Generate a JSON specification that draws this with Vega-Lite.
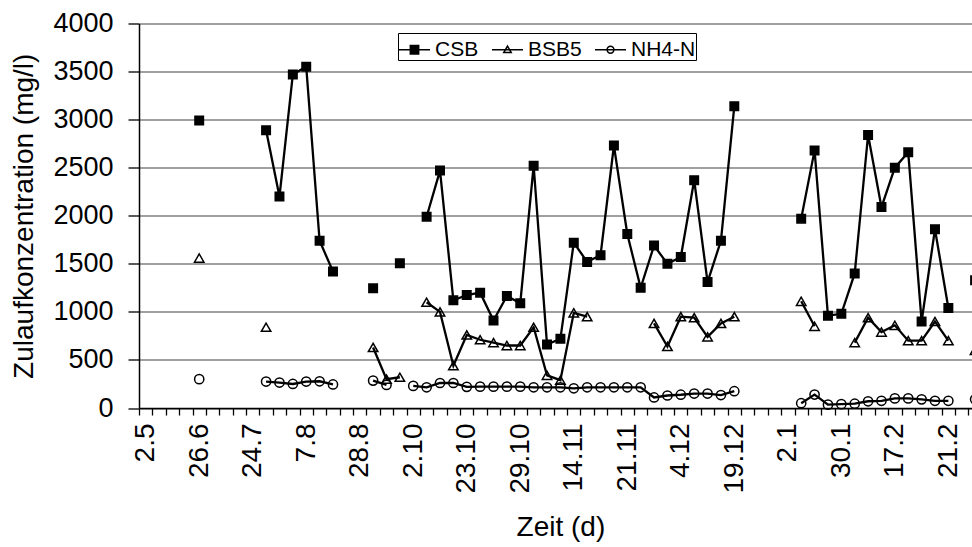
{
  "$schema": "https://vega.github.io/schema/vega-lite/v6.json",
  "width": 833,
  "height": 384.5,
  "autosize": {"type": "none"},
  "padding": {"left": 139, "top": 23.5, "right": 0, "bottom": 139},
  "background": "white",
  "config": {"font": "Liberation Sans", "view": {"stroke": null}},
  "data": {"values": [
    {"k": 4, "s": "CSB", "v": 2990}, {"k": 5, "s": "CSB", "v": null},
    {"k": 9, "s": "CSB", "v": 2890}, {"k": 10, "s": "CSB", "v": 2200}, {"k": 11, "s": "CSB", "v": 3470}, {"k": 12, "s": "CSB", "v": 3550}, {"k": 13, "s": "CSB", "v": 1740}, {"k": 14, "s": "CSB", "v": 1420}, {"k": 15, "s": "CSB", "v": null},
    {"k": 17, "s": "CSB", "v": 1245}, {"k": 18, "s": "CSB", "v": null},
    {"k": 19, "s": "CSB", "v": 1505}, {"k": 20, "s": "CSB", "v": null},
    {"k": 21, "s": "CSB", "v": 1990}, {"k": 22, "s": "CSB", "v": 2470}, {"k": 23, "s": "CSB", "v": 1120}, {"k": 24, "s": "CSB", "v": 1175}, {"k": 25, "s": "CSB", "v": 1200}, {"k": 26, "s": "CSB", "v": 910}, {"k": 27, "s": "CSB", "v": 1165}, {"k": 28, "s": "CSB", "v": 1090}, {"k": 29, "s": "CSB", "v": 2520}, {"k": 30, "s": "CSB", "v": 660}, {"k": 31, "s": "CSB", "v": 720}, {"k": 32, "s": "CSB", "v": 1720}, {"k": 33, "s": "CSB", "v": 1520}, {"k": 34, "s": "CSB", "v": 1590}, {"k": 35, "s": "CSB", "v": 2730}, {"k": 36, "s": "CSB", "v": 1810}, {"k": 37, "s": "CSB", "v": 1250}, {"k": 38, "s": "CSB", "v": 1690}, {"k": 39, "s": "CSB", "v": 1500}, {"k": 40, "s": "CSB", "v": 1570}, {"k": 41, "s": "CSB", "v": 2370}, {"k": 42, "s": "CSB", "v": 1310}, {"k": 43, "s": "CSB", "v": 1740}, {"k": 44, "s": "CSB", "v": 3140}, {"k": 45, "s": "CSB", "v": null},
    {"k": 49, "s": "CSB", "v": 1970}, {"k": 50, "s": "CSB", "v": 2680}, {"k": 51, "s": "CSB", "v": 960}, {"k": 52, "s": "CSB", "v": 980}, {"k": 53, "s": "CSB", "v": 1400}, {"k": 54, "s": "CSB", "v": 2840}, {"k": 55, "s": "CSB", "v": 2090}, {"k": 56, "s": "CSB", "v": 2500}, {"k": 57, "s": "CSB", "v": 2660}, {"k": 58, "s": "CSB", "v": 900}, {"k": 59, "s": "CSB", "v": 1860}, {"k": 60, "s": "CSB", "v": 1040}, {"k": 61, "s": "CSB", "v": null},
    {"k": 62, "s": "CSB", "v": 1330},

    {"k": 4, "s": "BSB5", "v": 1560}, {"k": 5, "s": "BSB5", "v": null},
    {"k": 9, "s": "BSB5", "v": 840}, {"k": 10, "s": "BSB5", "v": null},
    {"k": 17, "s": "BSB5", "v": 630}, {"k": 18, "s": "BSB5", "v": 300}, {"k": 19, "s": "BSB5", "v": 320}, {"k": 20, "s": "BSB5", "v": null},
    {"k": 21, "s": "BSB5", "v": 1100}, {"k": 22, "s": "BSB5", "v": 1000}, {"k": 23, "s": "BSB5", "v": 440}, {"k": 24, "s": "BSB5", "v": 760}, {"k": 25, "s": "BSB5", "v": 710}, {"k": 26, "s": "BSB5", "v": 680}, {"k": 27, "s": "BSB5", "v": 650}, {"k": 28, "s": "BSB5", "v": 650}, {"k": 29, "s": "BSB5", "v": 840}, {"k": 30, "s": "BSB5", "v": 340}, {"k": 31, "s": "BSB5", "v": 290}, {"k": 32, "s": "BSB5", "v": 990}, {"k": 33, "s": "BSB5", "v": 950}, {"k": 34, "s": "BSB5", "v": null},
    {"k": 38, "s": "BSB5", "v": 880}, {"k": 39, "s": "BSB5", "v": 640}, {"k": 40, "s": "BSB5", "v": 950}, {"k": 41, "s": "BSB5", "v": 940}, {"k": 42, "s": "BSB5", "v": 740}, {"k": 43, "s": "BSB5", "v": 880}, {"k": 44, "s": "BSB5", "v": 950}, {"k": 45, "s": "BSB5", "v": null},
    {"k": 49, "s": "BSB5", "v": 1110}, {"k": 50, "s": "BSB5", "v": 850}, {"k": 51, "s": "BSB5", "v": null},
    {"k": 53, "s": "BSB5", "v": 680}, {"k": 54, "s": "BSB5", "v": 940}, {"k": 55, "s": "BSB5", "v": 790}, {"k": 56, "s": "BSB5", "v": 860}, {"k": 57, "s": "BSB5", "v": 700}, {"k": 58, "s": "BSB5", "v": 700}, {"k": 59, "s": "BSB5", "v": 900}, {"k": 60, "s": "BSB5", "v": 700}, {"k": 61, "s": "BSB5", "v": null},
    {"k": 62, "s": "BSB5", "v": 600},

    {"k": 4, "s": "NH4-N", "v": 300}, {"k": 5, "s": "NH4-N", "v": null},
    {"k": 9, "s": "NH4-N", "v": 275}, {"k": 10, "s": "NH4-N", "v": 265}, {"k": 11, "s": "NH4-N", "v": 250}, {"k": 12, "s": "NH4-N", "v": 275}, {"k": 13, "s": "NH4-N", "v": 278}, {"k": 14, "s": "NH4-N", "v": 245}, {"k": 15, "s": "NH4-N", "v": null},
    {"k": 17, "s": "NH4-N", "v": 285}, {"k": 18, "s": "NH4-N", "v": 240}, {"k": 19, "s": "NH4-N", "v": null},
    {"k": 20, "s": "NH4-N", "v": 230}, {"k": 21, "s": "NH4-N", "v": 215}, {"k": 22, "s": "NH4-N", "v": 260}, {"k": 23, "s": "NH4-N", "v": 260}, {"k": 24, "s": "NH4-N", "v": 220}, {"k": 25, "s": "NH4-N", "v": 222}, {"k": 26, "s": "NH4-N", "v": 222}, {"k": 27, "s": "NH4-N", "v": 222}, {"k": 28, "s": "NH4-N", "v": 222}, {"k": 29, "s": "NH4-N", "v": 215}, {"k": 30, "s": "NH4-N", "v": 215}, {"k": 31, "s": "NH4-N", "v": 215}, {"k": 32, "s": "NH4-N", "v": 205}, {"k": 33, "s": "NH4-N", "v": 215}, {"k": 34, "s": "NH4-N", "v": 215}, {"k": 35, "s": "NH4-N", "v": 215}, {"k": 36, "s": "NH4-N", "v": 215}, {"k": 37, "s": "NH4-N", "v": 215}, {"k": 38, "s": "NH4-N", "v": 110}, {"k": 39, "s": "NH4-N", "v": 130}, {"k": 40, "s": "NH4-N", "v": 138}, {"k": 41, "s": "NH4-N", "v": 150}, {"k": 42, "s": "NH4-N", "v": 150}, {"k": 43, "s": "NH4-N", "v": 135}, {"k": 44, "s": "NH4-N", "v": 175}, {"k": 45, "s": "NH4-N", "v": null},
    {"k": 49, "s": "NH4-N", "v": 50}, {"k": 50, "s": "NH4-N", "v": 140}, {"k": 51, "s": "NH4-N", "v": 35}, {"k": 52, "s": "NH4-N", "v": 40}, {"k": 53, "s": "NH4-N", "v": 45}, {"k": 54, "s": "NH4-N", "v": 70}, {"k": 55, "s": "NH4-N", "v": 75}, {"k": 56, "s": "NH4-N", "v": 100}, {"k": 57, "s": "NH4-N", "v": 100}, {"k": 58, "s": "NH4-N", "v": 90}, {"k": 59, "s": "NH4-N", "v": 75}, {"k": 60, "s": "NH4-N", "v": 75}, {"k": 61, "s": "NH4-N", "v": null},
    {"k": 62, "s": "NH4-N", "v": 90}
  ]},
  "encoding": {
    "x": {
      "field": "k", "type": "ordinal",
      "scale": {
        "domain": [0,1,2,3,4,5,6,7,8,9,10,11,12,13,14,15,16,17,18,19,20,21,22,23,24,25,26,27,28,29,30,31,32,33,34,35,36,37,38,39,40,41,42,43,44,45,46,47,48,49,50,51,52,53,54,55,56,57,58,59,60,61,62],
        "range": [0, 842.8], "paddingInner": 0, "paddingOuter": 0
      },
      "axis": {
        "title": "Zeit (d)", "titleFontSize": 28, "titleFontWeight": "normal", "titleColor": "black", "titlePadding": 20,
        "labelAngle": 270, "labelAlign": "right", "labelBaseline": "middle", "labelFontSize": 28, "labelColor": "black", "labelPadding": 8, "labelOverlap": false,
        "labelExpr": "datum.value % 4 === 0 ? ['2.5','26.6','24.7','7.8','28.8','2.10','23.10','29.10','14.11','21.11','4.12','19.12','2.1','30.1','17.2','21.2'][datum.value / 4] : ''",
        "tickBand": "extent", "tickSize": 7, "tickColor": "black", "tickWidth": 1.3,
        "domainColor": "black", "domainWidth": 1.5, "grid": false
      }
    },
    "y": {
      "field": "v", "type": "quantitative",
      "scale": {"domain": [0, 4000], "nice": false, "zero": true},
      "axis": {
        "values": [0, 500, 1000, 1500, 2000, 2500, 3000, 3500, 4000], "format": "d",
        "title": "Zulaufkonzentration (mg/l)", "titleFontSize": 28, "titleFontWeight": "normal", "titleColor": "black", "titlePadding": 14,
        "labelFontSize": 27, "labelColor": "black", "labelPadding": 15,
        "tickSize": 11, "tickColor": "black", "tickWidth": 1.3,
        "domainColor": "black", "domainWidth": 1.5,
        "grid": true, "gridColor": "#808080", "gridWidth": 1.3
      }
    },
    "fill": {
      "field": "s", "type": "nominal",
      "scale": {"domain": ["CSB", "BSB5", "NH4-N"], "range": ["black", "transparent", "transparent"]},
      "legend": {
        "orient": "none", "legendX": 259, "legendY": 9.5, "direction": "horizontal", "title": null,
        "strokeColor": "black", "fillColor": "white", "padding": 0,
        "labelFontSize": 21, "labelColor": "black", "labelOffset": 4, "columnPadding": 10,
        "symbolSize": 961, "symbolStrokeWidth": 1.5, "symbolStrokeColor": "black",
        "encode": {"symbols": {
          "stroke": {"value": "black"},
          "strokeWidth": {"value": 1.5}
        }}
      }
    }
  },
  "layer": [
    {
      "mark": {"type": "line", "stroke": "black", "strokeWidth": 2.3, "invalid": "break-paths-filter-domains"},
      "encoding": {"detail": {"field": "s"}, "fill": null}
    },
    {
      "transform": [{"filter": {"field": "s", "equal": "CSB"}}],
      "mark": {"type": "point", "shape": "square", "filled": true, "stroke": "black", "strokeWidth": 1.5, "opacity": 1, "size": 72}
    },
    {
      "transform": [{"filter": {"field": "s", "equal": "BSB5"}}],
      "mark": {"type": "point", "shape": "triangle-up", "filled": true, "stroke": "black", "strokeWidth": 1.5, "opacity": 1, "size": 90}
    },
    {
      "transform": [{"filter": {"field": "s", "equal": "NH4-N"}}],
      "mark": {"type": "point", "shape": "circle", "filled": true, "stroke": "black", "strokeWidth": 1.5, "opacity": 1, "size": 85}
    },
    {
      "mark": {"type": "point", "filled": true, "stroke": "black", "strokeWidth": 1.5, "size": 0},
      "encoding": {
        "shape": {
          "field": "s", "type": "nominal",
          "scale": {"domain": ["CSB", "BSB5", "NH4-N"], "range": [
            "M-1,0H1M-0.27,-0.27H0.27V0.27H-0.27Z",
            "M-1,0H1M0,-0.24L0.24,0.18L-0.24,0.18Z",
            "M-1,0H1M0.22,0A0.22,0.22,0,1,1,-0.22,0A0.22,0.22,0,1,1,0.22,0Z"
          ]},
          "legend": {
            "orient": "none", "legendX": 259, "legendY": 9.5, "direction": "horizontal", "title": null,
            "strokeColor": "black", "fillColor": "white", "padding": 0,
            "labelFontSize": 21, "labelColor": "black", "labelOffset": 4, "columnPadding": 10,
            "symbolSize": 961, "symbolStrokeWidth": 1.5, "symbolStrokeColor": "black"
          }
        }
      }
    }
  ]
}
